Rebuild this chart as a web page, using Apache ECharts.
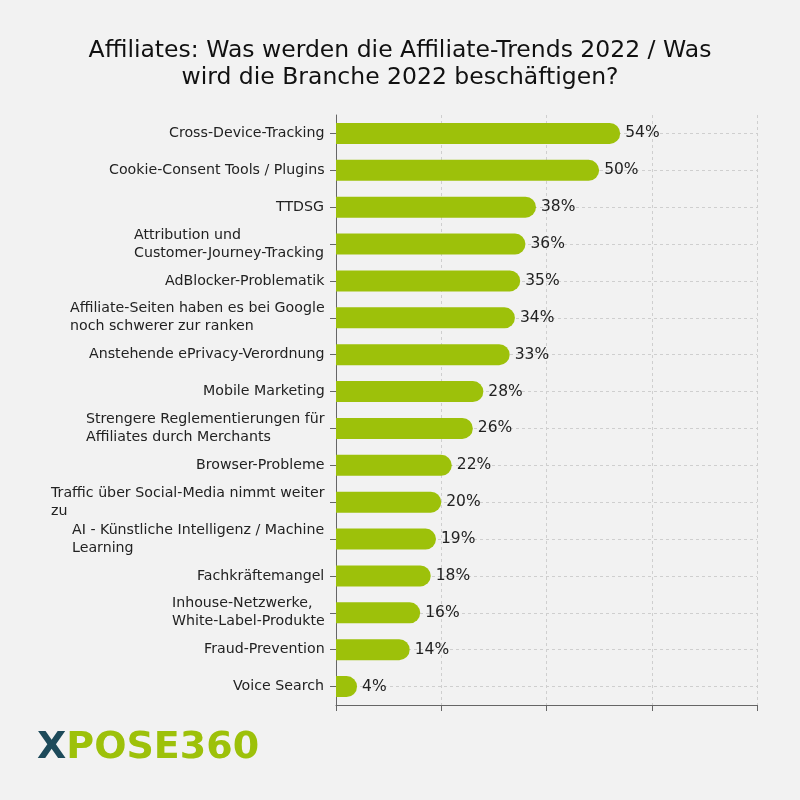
<!DOCTYPE html>
<html>
<head>
<meta charset="utf-8">
<script src="https://cdn.jsdelivr.net/npm/echarts@6/dist/echarts.min.js"></script>
<style>
  html, body { margin: 0; padding: 0; background: #f2f2f2; }
  #main { width: 800px; height: 800px; }
</style>
</head>
<body>
<div id="main"></div>
<script>
// Daten (Reihenfolge von oben nach unten)
var categories = [
  'Cross-Device-Tracking',
  'Cookie-Consent Tools / Plugins',
  'TTDSG',
  'Attribution und\nCustomer-Journey-Tracking',
  'AdBlocker-Problematik',
  'Affiliate-Seiten haben es bei Google\nnoch schwerer zur ranken',
  'Anstehende ePrivacy-Verordnung',
  'Mobile Marketing',
  'Strengere Reglementierungen für\nAffiliates durch Merchants',
  'Browser-Probleme',
  'Traffic über Social-Media nimmt weiter\nzu',
  'AI - Künstliche Intelligenz / Machine\nLearning',
  'Fachkräftemangel',
  'Inhouse-Netzwerke,\nWhite-Label-Produkte',
  'Fraud-Prevention',
  'Voice Search'
];
var values = [54, 50, 38, 36, 35, 34, 33, 28, 26, 22, 20, 19, 18, 16, 14, 4];
var xTicks = [0, 20, 40, 60, 80];

var FONT = '"DejaVu Sans", sans-serif';
var labelSize = 14.2;

// Breite der längsten Zeile messen, damit mehrzeilige Labels linksbündig im Block stehen
var ctx = document.createElement('canvas').getContext('2d');
ctx.font = labelSize + 'px ' + FONT;
var rich = {};
categories.forEach(function (c, i) {
  var w = 0;
  c.split('\n').forEach(function (l) { w = Math.max(w, ctx.measureText(l).width); });
  rich['r' + i] = {
    width: Math.ceil(w) + 1,
    align: 'left',
    fontSize: labelSize,
    fontFamily: FONT,
    color: '#222',
    lineHeight: 18
  };
});

var myChart = echarts.init(document.getElementById('main'));
myChart.setOption({
  backgroundColor: '#f2f2f2',
  animation: false,
  title: {
    text: 'Affiliates: Was werden die Affiliate-Trends 2022 / Was\nwird die Branche 2022 beschäftigen?',
    left: 'center',
    top: 32,
    textStyle: {
      fontFamily: FONT,
      fontWeight: 'normal',
      fontSize: 23.5,
      lineHeight: 27,
      color: '#111'
    }
  },
  grid: {
    left: 336,
    right: 43,
    top: 115,
    bottom: 95,
    containLabel: false
  },
  xAxis: {
    type: 'value',
    min: xTicks[0],
    max: xTicks[xTicks.length - 1],
    interval: xTicks[1] - xTicks[0],
    axisLine: { show: true, lineStyle: { color: '#666', width: 1 } },
    axisTick: { show: true, length: 6, lineStyle: { color: '#666' } },
    axisLabel: { show: false },
    splitLine: { show: true, lineStyle: { color: '#cfcfcf', type: [3, 3] } }
  },
  yAxis: {
    type: 'category',
    inverse: true,
    data: categories,
    axisLine: { show: true, lineStyle: { color: '#666', width: 1 } },
    axisTick: { show: true, alignWithLabel: true, length: 6, lineStyle: { color: '#666' } },
    splitLine: { show: true, alignWithLabel: true, lineStyle: { color: '#cfcfcf', type: [3, 3] } },
    axisLabel: {
      margin: 10,
      align: 'right',
      formatter: function (v, idx) {
        return v.split('\n').map(function (l) { return '{r' + idx + '|' + l + '}'; }).join('\n');
      },
      rich: rich
    }
  },
  series: [{
    type: 'bar',
    data: values,
    barWidth: 21,
    itemStyle: { color: '#9dc10a', borderRadius: [0, 11, 11, 0] },
    label: {
      show: true,
      position: 'right',
      distance: 5,
      formatter: '{c}%',
      fontFamily: FONT,
      fontSize: 15.5,
      color: '#222'
    }
  }],
  graphic: [{
    type: 'text',
    left: 37,
    top: 729,
    style: {
      text: '{x|X}{p|POSE360}',
      rich: {
        x: { fontFamily: FONT, fontWeight: 'bold', fontSize: 38, fill: '#1d4a5a' },
        p: { fontFamily: FONT, fontWeight: 'bold', fontSize: 38, fill: '#9dc10a' }
      }
    }
  }]
});
</script>
</body>
</html>
